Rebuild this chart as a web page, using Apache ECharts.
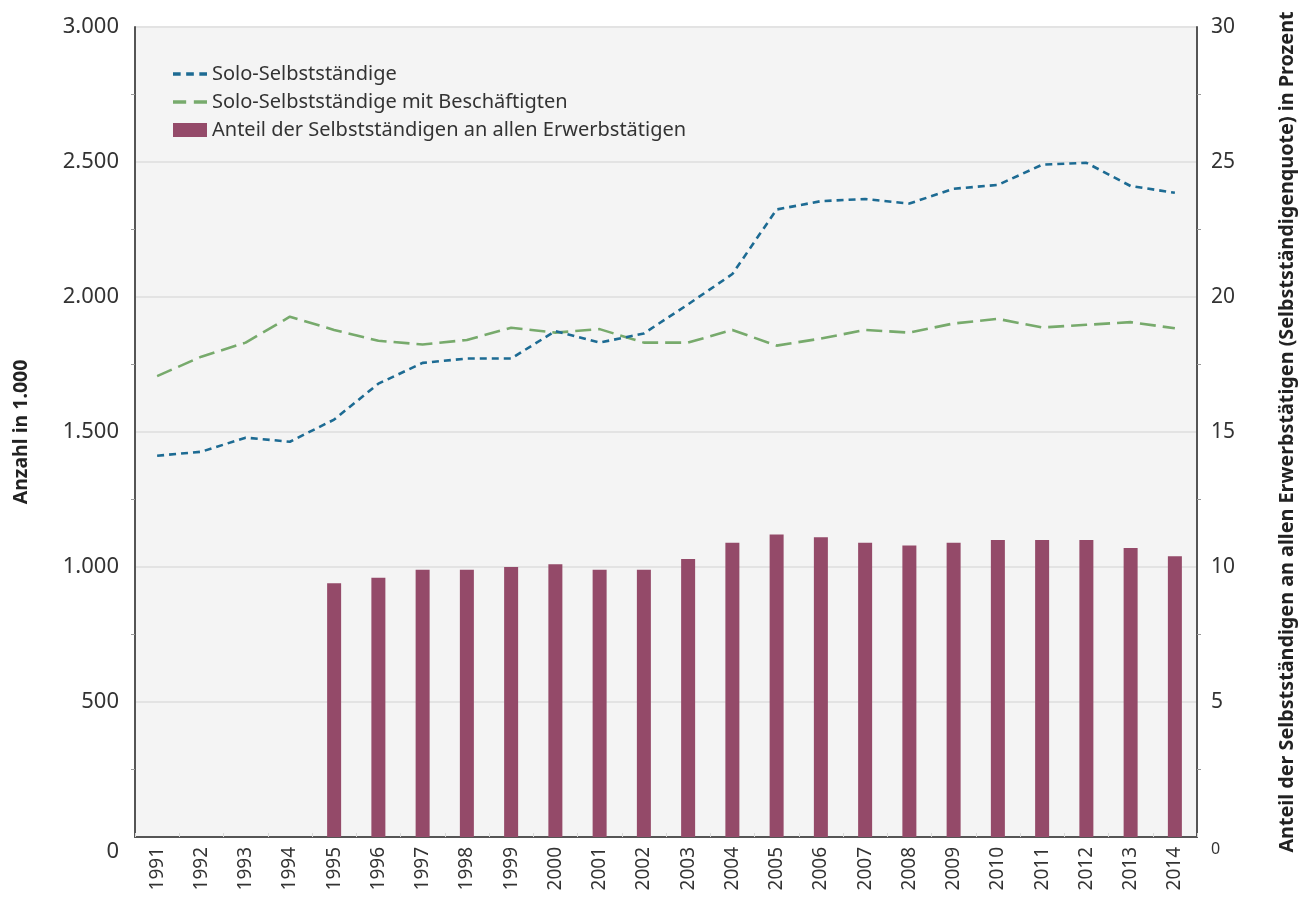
<!DOCTYPE html>
<html>
<head>
<meta charset="utf-8">
<script src="https://cdn.jsdelivr.net/npm/echarts@6/dist/echarts.min.js"></script>
<style>
  html,body{margin:0;padding:0;background:#fff;}
  #chart{width:1298px;height:900px;}
</style>
</head>
<body>
<div id="chart"></div>
<script>
'use strict';

/* ---------- data ---------- */
const years = ['1991','1992','1993','1994','1995','1996','1997','1998','1999','2000','2001','2002',
  '2003','2004','2005','2006','2007','2008','2009','2010','2011','2012','2013','2014'];
// Anzahl in 1.000
const soloSelbst = [1412,1427,1479,1464,1546,1679,1756,1772,1772,1874,1831,1865,
  1973,2085,2324,2355,2363,2346,2401,2415,2490,2497,2411,2386];
const soloMitBesch = [1707,1779,1831,1927,1878,1838,1824,1841,1886,1868,1881,1831,
  1831,1878,1820,1846,1878,1868,1902,1919,1887,1897,1907,1884];
// Selbstständigenquote in Prozent
const quote = [null,null,null,null,9.4,9.6,9.9,9.9,10.0,10.1,9.9,9.9,
  10.3,10.9,11.2,11.1,10.9,10.8,10.9,11.0,11.0,11.0,10.7,10.4];
const leftTicks = {min:0, max:3000, interval:500};
const rightTicks = {min:0, max:30, interval:5};

/* ---------- style ---------- */
const C = {
  ink:'#333333', axis:'#555555', grid:'#e3e3e3', plot:'#f4f4f4',
  blue:'#1d6b93', green:'#77aa6c', bar:'#944a69',
  font:'"Noto Sans", "Open Sans", sans-serif',
};
const fmtDE = v => String(v).replace(/\B(?=(\d{3})+(?!\d))/g,'.');

const chart = echarts.init(document.getElementById('chart'), null, {renderer:'canvas'});
chart.setOption({
  animation:false,
  textStyle:{fontFamily:C.font},
  grid:{left:135, right:101, top:27, bottom:63, outerBoundsMode:'none',
    show:true, backgroundColor:C.plot, borderWidth:0},
  legend:{
    orient:'vertical', left:168, top:59, itemGap:8, itemWidth:34, itemHeight:14,
    textStyle:{color:C.ink, fontSize:20, fontFamily:C.font},
    data:[
      {name:'Solo-Selbstständige', icon:'path://M0,6H7V9H0ZM12,6H19V9H12ZM24,6H31V9H24Z', itemStyle:{color:C.blue}},
      {name:'Solo-Selbstständige mit Beschäftigten', icon:'path://M0,6H12V9H0ZM19,6H31V9H19Z', itemStyle:{color:C.green}},
      {name:'Anteil der Selbstständigen an allen Erwerbstätigen', icon:'rect', itemStyle:{color:C.bar}},
    ],
  },
  xAxis:{
    type:'category', data:years, boundaryGap:true,
    axisLine:{lineStyle:{color:C.axis, width:2}},
    axisTick:{show:true, length:4, inside:true, lineStyle:{color:'#d8d8d8'}},
    axisLabel:{color:C.ink, fontSize:19, rotate:90, margin:10, fontFamily:C.font},
  },
  yAxis:[
    {
      type:'value', ...leftTicks, position:'left',
      name:'Anzahl in 1.000', nameLocation:'middle', nameGap:104, nameRotate:90,
      nameTextStyle:{color:'#222', fontSize:19.5, fontWeight:'bold', fontFamily:C.font},
      axisLine:{show:true, lineStyle:{color:C.axis, width:2}},
      axisTick:{show:false},
      minorTick:{show:true, splitNumber:2, length:4, lineStyle:{color:'#999'}},
      splitLine:{lineStyle:{color:C.grid, width:2}},
      axisLabel:{color:C.ink, fontSize:22, margin:16, fontFamily:C.font,
        formatter:v => v===0 ? '{z|0}' : fmtDE(v), rich:{z:{fontSize:22, padding:[30,0,0,0]}}},
    },
    {
      type:'value', ...rightTicks, position:'right',
      name:'Anteil der Selbstständigen an allen Erwerbstätigen (Selbstständigenquote) in Prozent',
      nameLocation:'middle', nameGap:80, nameRotate:90,
      nameTextStyle:{color:'#222', fontSize:19.8, fontWeight:'bold', fontFamily:C.font},
      axisLine:{show:true, lineStyle:{color:C.axis, width:2}},
      axisTick:{show:false},
      minorTick:{show:true, splitNumber:2, length:4, lineStyle:{color:'#999'}},
      splitLine:{show:false},
      axisLabel:{color:C.ink, fontSize:21, margin:14, fontFamily:C.font,
        formatter:v => v===0 ? '{z|0}' : String(v), rich:{z:{fontSize:16, padding:[24,0,0,0]}}},
    },
  ],
  series:[
    {
      name:'Anteil der Selbstständigen an allen Erwerbstätigen', type:'bar', yAxisIndex:1,
      data:quote, barWidth:14, itemStyle:{color:C.bar}, z:2,
    },
    {
      name:'Solo-Selbstständige', type:'line', yAxisIndex:0, data:soloSelbst,
      symbol:'none', lineStyle:{color:C.blue, width:2.6, type:[7,5]}, itemStyle:{color:C.blue}, z:4,
    },
    {
      name:'Solo-Selbstständige mit Beschäftigten', type:'line', yAxisIndex:0, data:soloMitBesch,
      symbol:'none', lineStyle:{color:C.green, width:2.6, type:[16,7]}, itemStyle:{color:C.green}, z:3,
    },
  ],
});
</script>
</body>
</html>
